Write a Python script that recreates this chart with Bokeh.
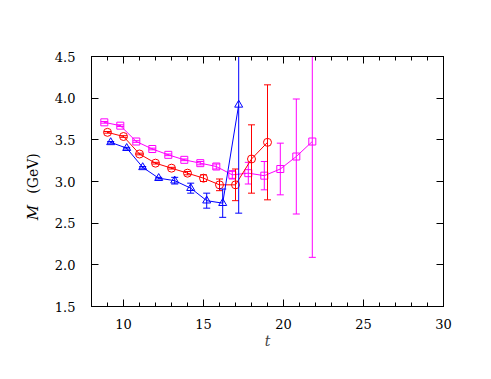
import math
from bokeh.plotting import figure
from bokeh.layouts import row
from bokeh.models import LinearAxis, Range1d, FixedTicker, Label
from bokeh.embed import file_html
from bokeh.resources import INLINE

# ---- data ----
t_mag = [8.8, 9.8, 10.8, 11.8, 12.8, 13.8, 14.8, 15.8, 16.8, 17.8, 18.8, 19.8, 20.8, 21.8]
m_mag = [3.71, 3.67, 3.48, 3.39, 3.32, 3.26, 3.22, 3.18, 3.08, 3.10, 3.07, 3.15, 3.30, 3.48]
e_mag = [0.01, 0.01, 0.01, 0.01, 0.01, 0.01, 0.02, 0.03, 0.05, 0.13, 0.17, 0.31, 0.69, 1.39]

t_red = [9, 10, 11, 12, 13, 14, 15, 16, 17, 18, 19]
m_red = [3.59, 3.54, 3.33, 3.22, 3.16, 3.10, 3.04, 2.96, 2.96, 3.27, 3.47]
e_red = [0.01, 0.01, 0.01, 0.01, 0.01, 0.02, 0.04, 0.07, 0.19, 0.41, 0.69]

t_blu = [9.2, 10.2, 11.2, 12.2, 13.2, 14.2, 15.2, 16.2, 17.2]
m_blu = [3.47, 3.40, 3.17, 3.04, 3.01, 2.92, 2.77, 2.74, 3.92]
e_blu = [0.01, 0.01, 0.01, 0.01, 0.04, 0.06, 0.09, 0.17, 1.30]

x_major = [10, 15, 20, 25, 30]
x_minor = list(range(8, 31))
y_major = [1.5, 2.0, 2.5, 3.0, 3.5, 4.0, 4.5]
y_labels = {1.5: "1.5", 2.0: "2.0", 2.5: "2.5", 3.0: "3.0", 3.5: "3.5", 4.0: "4.0", 4.5: "4.5"}
y_title_symbol = "M"
y_title_unit = "(GeV)"
x_title = "t"

FONT = "DejaVu Serif"
LABEL_W = 48
TOTAL_H = 371

p = figure(frame_width=352, frame_height=250,
           x_range=Range1d(8, 30), y_range=Range1d(1.5, 4.5),
           output_backend="svg", toolbar_location=None,
           min_border_left=91 - LABEL_W, min_border_right=40, min_border_top=56, min_border_bottom=65)
p.grid.visible = False
p.outline_line_color = "black"
p.outline_line_width = 1
p.background_fill_color = "white"
p.border_fill_color = "white"


def style_axis(ax, ticks, minor, show_labels):
    ax.ticker = FixedTicker(ticks=ticks, minor_ticks=minor)
    ax.major_tick_in = 7
    ax.major_tick_out = 0
    ax.minor_tick_in = 4 if minor else 0
    ax.minor_tick_out = 0
    ax.axis_line_color = "black"
    ax.major_tick_line_color = "black"
    ax.minor_tick_line_color = "black"
    ax.major_label_text_font = FONT
    ax.major_label_text_font_size = "13px"
    ax.major_label_text_color = "black"
    if not show_labels:
        ax.major_label_text_alpha = 0
        ax.major_label_text_font_size = "1px"


xb = p.xaxis[0]
style_axis(xb, x_major, x_minor, True)
xb.major_label_standoff = 12
xb.axis_label = x_title
xb.axis_label_text_font = FONT
xb.axis_label_text_font_style = "italic"
xb.axis_label_text_font_size = "14px"
xb.axis_label_standoff = 1

yl = p.yaxis[0]
style_axis(yl, y_major, [], True)
yl.major_label_overrides = y_labels
yl.major_label_standoff = 16

xt = LinearAxis()
style_axis(xt, x_major, x_minor, False)
p.add_layout(xt, "above")
yr = LinearAxis()
style_axis(yr, y_major, [], False)
p.add_layout(yr, "right")


def series(t, m, e, color, marker, size):
    lo = [a - b for a, b in zip(m, e)]
    hi = [a + b for a, b in zip(m, e)]
    p.segment(x0=t, y0=lo, x1=t, y1=hi, line_color=color, line_width=1)
    p.scatter(t, lo, marker="dash", size=7, line_color=color, line_width=1)
    p.scatter(t, hi, marker="dash", size=7, line_color=color, line_width=1)
    p.line(t, m, line_color=color, line_width=1)
    p.scatter(t, m, marker=marker, size=size, line_color=color, fill_color=None, line_width=1)


series(t_mag, m_mag, e_mag, "#FF00FF", "square", 7)
series(t_red, m_red, e_red, "#FF0000", "circle", 8)
series(t_blu, m_blu, e_blu, "#0000FF", "triangle", 8)

# narrow side panel carrying the y-axis title (italic symbol + upright unit);
# its frame is aligned with the main frame, screen y is measured from frame bottom
lab = figure(width=LABEL_W, height=TOTAL_H, x_range=Range1d(0, LABEL_W), y_range=Range1d(0, TOTAL_H),
             output_backend="svg", toolbar_location=None, min_border=0,
             x_axis_type=None, y_axis_type=None)
lab.grid.visible = False
lab.outline_line_color = None
lab.background_fill_color = "white"
lab.border_fill_color = "white"
lab.add_layout(Label(x=32, y=94, x_units="screen", y_units="screen", text=y_title_symbol,
                     angle=math.pi / 2, text_font=FONT, text_font_style="italic",
                     text_font_size="15px", text_color="black",
                     text_align="center", text_baseline="middle"))
lab.add_layout(Label(x=32, y=133, x_units="screen", y_units="screen", text=y_title_unit,
                     angle=math.pi / 2, text_font=FONT, text_font_size="14px", text_color="black",
                     text_align="center", text_baseline="middle"))

layout = row(lab, p, spacing=0)
open("out.html", "w").write(file_html(layout, INLINE))
